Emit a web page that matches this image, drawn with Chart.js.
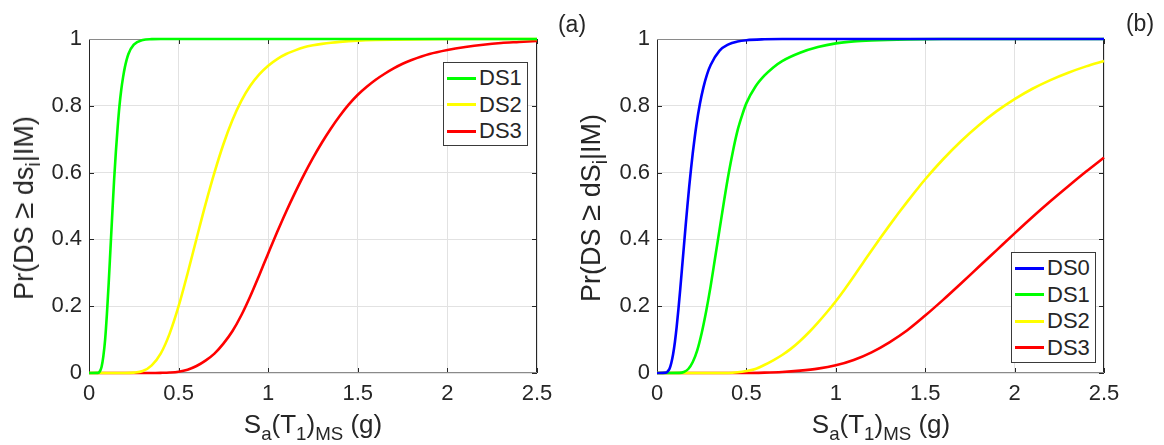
<!DOCTYPE html>
<html><head><meta charset="utf-8">
<script src="https://cdn.jsdelivr.net/npm/chart.js@4"></script>
<style>
body{margin:0;background:#fff;width:1164px;height:445px;overflow:hidden;position:relative;font-family:'Liberation Sans',Arial,sans-serif;color:#262626}
canvas{position:absolute;top:0}
#ca{left:0}#cb{left:582px}
.t{position:absolute;white-space:nowrap;line-height:1;transform:translate(-50%,-50%)}
.yt{transform:translate(-50%,-50%) rotate(-90deg)}
.s{font-size:72%;position:relative;top:0.38em}
.ge{font-size:110%}
.leg{position:absolute;border:1px solid #3a3a3a;background:#fff;font-size:22px;line-height:1;padding:2px 5px 2px 3px;box-sizing:border-box}
.leg div{height:26.5px;display:flex;align-items:center;white-space:nowrap}
.leg i{display:inline-block;width:29px;height:3px;margin-right:3px}
</style></head>
<body>
<canvas id="ca" width="582" height="445"></canvas>
<canvas id="cb" width="582" height="445"></canvas>
<div class="t yt" style="left:23px;top:208px;font-size:27px">Pr(DS <span class="ge">≥</span> ds<span class="s">i</span>|IM)</div>
<div class="t yt" style="left:590px;top:208px;font-size:27px">Pr(DS <span class="ge">≥</span> dS<span class="s">i</span>|IM)</div>
<div class="t" style="left:313px;top:424px;font-size:26px">S<span class="s">a</span>(T<span class="s">1</span>)<span class="s">MS</span> (g)</div>
<div class="t" style="left:881px;top:424px;font-size:26px">S<span class="s">a</span>(T<span class="s">1</span>)<span class="s">MS</span> (g)</div>
<div class="t" style="left:572px;top:24px;font-size:23px">(a)</div>
<div class="t" style="left:1140px;top:23px;font-size:23px">(b)</div>
<div class="leg" id="lega" style="left:443px;top:62px;width:85px;height:84px"></div>
<div class="leg" id="legb" style="left:1011px;top:252px;width:85px;height:111px"></div>
<script>
// ---------- data ----------
const xTickLabels = ['0','0.5','1','1.5','2','2.5'];
const yTickLabels = ['0','0.2','0.4','0.6','0.8','1'];

// panel (a)
const namesA = ['DS1','DS2','DS3'];
const colorsA = ['#00ff00','#ffff00','#ff0000'];
const a_ds1_x = [0,0.05,0.06,0.07,0.08,0.09,0.10,0.11,0.12,0.13,0.14,0.15,0.16,0.17,0.18,0.19,0.20,0.22,0.25,0.30,0.35,0.40,1.0,2.5];
const a_ds1_y = [0,0.0005,0.0045,0.018,0.05,0.10,0.177,0.27,0.374,0.477,0.577,0.663,0.737,0.80,0.848,0.885,0.915,0.955,0.983,0.997,0.9995,1,1,1];
const a_ds2_x = [0,0.2,0.25,0.3,0.35,0.4,0.45,0.5,0.55,0.6,0.65,0.7,0.75,0.8,0.85,0.9,0.95,1.0,1.05,1.1,1.15,1.2,1.25,1.3,1.35,1.4,1.5,1.6,1.8,2.0,2.5];
const a_ds2_y = [0,0,0.001,0.006,0.023,0.058,0.118,0.2,0.298,0.402,0.505,0.600,0.685,0.757,0.815,0.86,0.894,0.92,0.94,0.955,0.966,0.975,0.981,0.9855,0.989,0.9915,0.995,0.997,0.999,1,1];
const a_ds3_x = [0,0.35,0.4,0.45,0.5,0.55,0.6,0.65,0.7,0.75,0.8,0.85,0.9,0.95,1.0,1.05,1.1,1.15,1.2,1.25,1.3,1.35,1.4,1.45,1.5,1.55,1.6,1.65,1.7,1.75,1.8,1.9,2.0,2.1,2.2,2.3,2.4,2.5];
const a_ds3_y = [0,0,0.0005,0.0015,0.004,0.010,0.021,0.037,0.058,0.088,0.125,0.173,0.23,0.293,0.358,0.422,0.483,0.54,0.594,0.644,0.69,0.732,0.77,0.804,0.833,0.857,0.878,0.896,0.912,0.926,0.937,0.955,0.967,0.976,0.983,0.988,0.991,0.994];

// panel (b)
const namesB = ['DS0','DS1','DS2','DS3'];
const colorsB = ['#0000ff','#00ff00','#ffff00','#ff0000'];
const b_ds0_x = [0,0.05,0.06,0.07,0.08,0.09,0.10,0.11,0.12,0.13,0.14,0.15,0.16,0.17,0.18,0.19,0.20,0.22,0.24,0.26,0.28,0.30,0.35,0.40,0.45,0.5,0.6,0.7,1.0,2.5];
const b_ds0_y = [0,0.001,0.005,0.013,0.030,0.056,0.092,0.138,0.192,0.251,0.314,0.377,0.44,0.50,0.557,0.61,0.658,0.741,0.806,0.856,0.894,0.922,0.965,0.984,0.9925,0.9965,0.9992,1,1,1];
const b_ds1_x = [0,0.125,0.15,0.175,0.2,0.225,0.25,0.275,0.3,0.325,0.35,0.375,0.4,0.425,0.45,0.475,0.5,0.55,0.6,0.65,0.7,0.8,0.9,1.0,1.1,1.2,1.4,1.6,2.5];
const b_ds1_y = [0,0.0005,0.003,0.012,0.033,0.068,0.12,0.185,0.26,0.345,0.43,0.515,0.595,0.665,0.725,0.77,0.808,0.857,0.89,0.915,0.934,0.959,0.976,0.987,0.993,0.996,0.999,1,1];
const b_ds2_x = [0,0.4,0.45,0.5,0.55,0.6,0.65,0.7,0.75,0.8,0.85,0.9,0.95,1.0,1.05,1.1,1.15,1.2,1.25,1.3,1.35,1.4,1.45,1.5,1.6,1.7,1.8,1.9,2.0,2.1,2.2,2.3,2.4,2.5];
const b_ds2_y = [0,0,0.002,0.006,0.012,0.024,0.038,0.054,0.073,0.096,0.122,0.151,0.182,0.215,0.251,0.289,0.328,0.367,0.405,0.442,0.478,0.513,0.547,0.58,0.64,0.694,0.742,0.784,0.82,0.851,0.877,0.899,0.918,0.934];
const b_ds3_x = [0,0.5,0.6,0.7,0.8,0.9,1.0,1.1,1.2,1.3,1.4,1.5,1.6,1.7,1.8,1.9,2.0,2.1,2.2,2.3,2.4,2.5];
const b_ds3_y = [0,0,0.001,0.003,0.007,0.013,0.023,0.039,0.062,0.092,0.128,0.172,0.219,0.268,0.318,0.368,0.418,0.467,0.514,0.559,0.603,0.645];

// ---------- helpers ----------
const pts = (xs, ys) => xs.map((x, i) => ({x, y: ys[i]}));
const FONT = "'Liberation Sans', Arial, sans-serif";
const INK = '#262626';

const boxPlugin = {
  id: 'matlabBox',
  beforeDatasetsDraw(chart) {
    const {ctx, chartArea: a, scales: {x, y}} = chart;
    ctx.save();
    ctx.lineWidth = 1;
    ctx.strokeStyle = INK;
    ctx.beginPath();
    x.ticks.forEach(t => {
      const px = Math.round(x.getPixelForValue(t.value)) + 0.5;
      ctx.moveTo(px, a.bottom); ctx.lineTo(px, a.bottom - 5);
      ctx.moveTo(px, a.top); ctx.lineTo(px, a.top + 5);
    });
    y.ticks.forEach(t => {
      const py = Math.round(y.getPixelForValue(t.value)) + 0.5;
      ctx.moveTo(a.left, py); ctx.lineTo(a.left + 5, py);
      ctx.moveTo(a.right, py); ctx.lineTo(a.right - 5, py);
    });
    ctx.stroke();
    ctx.beginPath();
    ctx.moveTo(a.left + 0.5, a.top); ctx.lineTo(a.left + 0.5, a.bottom);
    ctx.moveTo(a.right - 0.5, a.top); ctx.lineTo(a.right - 0.5, a.bottom);
    ctx.stroke();
    ctx.strokeStyle = '#8a8a8a';
    ctx.beginPath();
    ctx.moveTo(a.left, a.top + 0.5); ctx.lineTo(a.right, a.top + 0.5);
    ctx.moveTo(a.left, a.bottom - 0.5); ctx.lineTo(a.right, a.bottom - 0.5);
    ctx.stroke();
    ctx.restore();
  }
};

function makeChart(id, names, colors, series, yWidth, padRight) {
  return new Chart(document.getElementById(id), {
    type: 'line',
    data: {
      datasets: series.map((s, i) => ({
        label: names[i], data: pts(s[0], s[1]),
        borderColor: colors[i], backgroundColor: colors[i],
        borderWidth: 2.6, pointRadius: 0, fill: false,
        cubicInterpolationMode: 'monotone', clip: false
      }))
    },
    options: {
      responsive: false, animation: false, devicePixelRatio: 1,
      layout: {padding: {left: 0, top: 39, right: padRight, bottom: 0}},
      plugins: {legend: {display: false}, tooltip: {enabled: false}},
      scales: {
        x: {
          type: 'linear', min: 0, max: 2.5,
          afterFit: s => { s.height = 72; },
          ticks: {stepSize: 0.5, padding: 8, color: INK, font: {family: FONT, size: 22},
                  maxRotation: 0, autoSkip: false, callback: (v, i) => xTickLabels[i]},
          grid: {color: '#e2e2e2', drawTicks: false},
          border: {display: false}
        },
        y: {
          type: 'linear', min: 0, max: 1,
          afterFit: s => { s.width = yWidth; },
          ticks: {stepSize: 0.2, padding: 7, color: INK, font: {family: FONT, size: 22},
                  autoSkip: false, callback: (v, i) => yTickLabels[i]},
          grid: {color: '#e2e2e2', drawTicks: false},
          border: {display: false}
        }
      }
    },
    plugins: [boxPlugin]
  });
}

makeChart('ca', namesA, colorsA,
  [[a_ds1_x, a_ds1_y], [a_ds2_x, a_ds2_y], [a_ds3_x, a_ds3_y]], 89, 45);
makeChart('cb', namesB, colorsB,
  [[b_ds0_x, b_ds0_y], [b_ds1_x, b_ds1_y], [b_ds2_x, b_ds2_y], [b_ds3_x, b_ds3_y]], 75, 60);

function legend(id, names, colors) {
  const el = document.getElementById(id);
  names.forEach((n, i) => {
    const row = document.createElement('div');
    const sw = document.createElement('i');
    sw.style.background = colors[i];
    row.appendChild(sw);
    row.appendChild(document.createTextNode(n));
    el.appendChild(row);
  });
}
legend('lega', namesA, colorsA);
legend('legb', namesB, colorsB);
</script>
</body></html>
